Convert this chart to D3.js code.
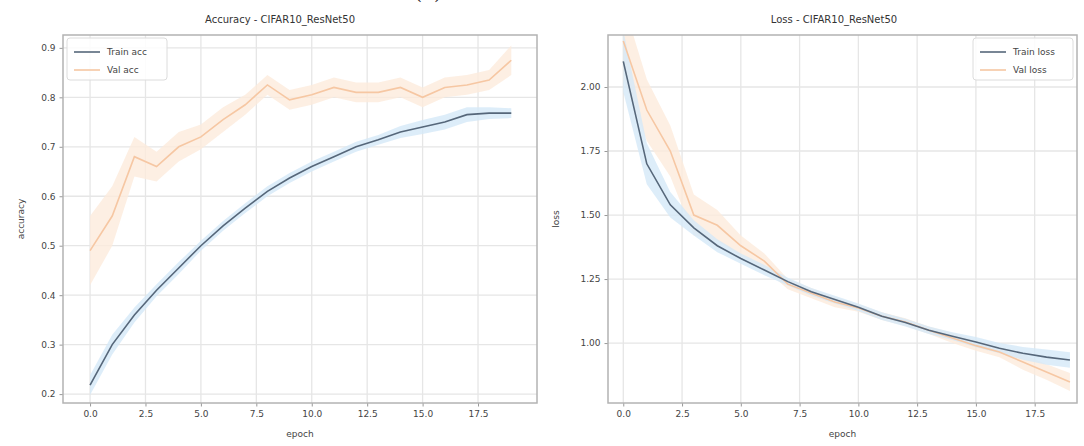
<!DOCTYPE html>
<html>
<head>
<meta charset="utf-8">
<script src="https://cdn.jsdelivr.net/npm/d3@7"></script>
<style>
body { margin: 0; background: #fff; }
text { font-family: "DejaVu Sans", sans-serif; fill: #444; }
</style>
</head>
<body>
<div id="vis"></div>
<script>
var width = 1084,
    height = 446;

// values
var epochs = d3.range(0, 20);
var trainAcc = [0.218, 0.30, 0.36, 0.41, 0.455, 0.50, 0.54, 0.576, 0.61, 0.637,
                0.66, 0.68, 0.70, 0.714, 0.73, 0.74, 0.75, 0.765, 0.768, 0.768];
var trainAccStd = [0.02, 0.02, 0.015, 0.012, 0.012, 0.01, 0.01, 0.01, 0.01, 0.01,
                   0.01, 0.01, 0.01, 0.01, 0.012, 0.014, 0.015, 0.015, 0.012, 0.01];
var valAcc = [0.49, 0.56, 0.68, 0.66, 0.70, 0.72, 0.755, 0.785, 0.825, 0.795,
              0.805, 0.82, 0.81, 0.81, 0.82, 0.80, 0.82, 0.825, 0.835, 0.875];
var valAccStd = [0.07, 0.06, 0.04, 0.03, 0.03, 0.025, 0.025, 0.02, 0.02, 0.02,
                 0.02, 0.02, 0.02, 0.02, 0.02, 0.02, 0.02, 0.02, 0.02, 0.03];

var trainLoss = [2.10, 1.70, 1.54, 1.45, 1.38, 1.33, 1.285, 1.24, 1.20, 1.17,
                 1.14, 1.105, 1.08, 1.05, 1.027, 1.004, 0.98, 0.96, 0.945, 0.934];
var trainLossStd = [0.12, 0.08, 0.05, 0.03, 0.025, 0.02, 0.02, 0.015, 0.015, 0.015,
                    0.015, 0.015, 0.015, 0.015, 0.015, 0.02, 0.02, 0.025, 0.03, 0.03];
var valLoss = [2.18, 1.91, 1.75, 1.50, 1.46, 1.38, 1.32, 1.23, 1.195, 1.16,
               1.137, 1.105, 1.082, 1.05, 1.02, 0.99, 0.965, 0.926, 0.887, 0.848];
var valLossStd = [0.15, 0.12, 0.1, 0.08, 0.06, 0.04, 0.03, 0.02, 0.02, 0.02,
                  0.015, 0.015, 0.015, 0.015, 0.02, 0.02, 0.02, 0.03, 0.03, 0.035];

var epochTicks = [0, 2.5, 5, 7.5, 10, 12.5, 15, 17.5];
var accTicks = [0.2, 0.3, 0.4, 0.5, 0.6, 0.7, 0.8, 0.9];
var lossTicks = [1.0, 1.25, 1.5, 1.75, 2.0];

var trainColor = "#56677a",
    trainBand = "#d4e9f7",
    valColor = "#f6c7a3",
    valBand = "#fdebdc";

var svg = d3.select('#vis').append('svg')
    .attr("width", width)
    .attr("height", height)
    .style("display", "block");

svg.append("rect").attr("width", width).attr("height", height).attr("fill", "#fff");

// caption of the figure above, only the bottom is visible
svg.append("text")
    .attr("x", 428).attr("y", -1)
    .attr("text-anchor", "middle")
    .style("font-family", "DejaVu Serif, serif")
    .style("font-size", "20px")
    .style("fill", "#222")
    .text("(a)");

function drawPanel(cfg) {
    var x = d3.scaleLinear().domain(cfg.xDomain).range([cfg.left, cfg.right]);
    var y = d3.scaleLinear().domain(cfg.yDomain).range([cfg.bottom, cfg.top]);
    var g = svg.append("g");

    g.append("clipPath").attr("id", cfg.id + "clip")
      .append("rect")
        .attr("x", cfg.left).attr("y", cfg.top)
        .attr("width", cfg.right - cfg.left).attr("height", cfg.bottom - cfg.top);

    // grid
    g.selectAll("line.vgrid").data(epochTicks).enter().append("line")
        .attr("x1", function(d) { return x(d); }).attr("x2", function(d) { return x(d); })
        .attr("y1", cfg.top).attr("y2", cfg.bottom)
        .attr("stroke", "#e6e6e6").attr("stroke-width", 1.3);
    g.selectAll("line.hgrid").data(cfg.yTicks).enter().append("line")
        .attr("y1", function(d) { return y(d); }).attr("y2", function(d) { return y(d); })
        .attr("x1", cfg.left).attr("x2", cfg.right)
        .attr("stroke", "#e6e6e6").attr("stroke-width", 1.3);

    var plot = g.append("g").attr("clip-path", "url(#" + cfg.id + "clip)");

    var area = function(vals, std) {
        return d3.area()
            .x(function(d) { return x(d); })
            .y0(function(d, i) { return y(vals[i] - std[i]); })
            .y1(function(d, i) { return y(vals[i] + std[i]); })(epochs);
    };
    var line = function(vals) {
        return d3.line()
            .x(function(d) { return x(d); })
            .y(function(d, i) { return y(vals[i]); })(epochs);
    };

    plot.append("path").attr("d", area(cfg.val, cfg.valStd))
        .attr("fill", valBand).attr("opacity", 0.8);
    plot.append("path").attr("d", area(cfg.train, cfg.trainStd))
        .attr("fill", trainBand).attr("opacity", 0.8);
    plot.append("path").attr("d", line(cfg.val))
        .attr("fill", "none").attr("stroke", valColor).attr("stroke-width", 1.6);
    plot.append("path").attr("d", line(cfg.train))
        .attr("fill", "none").attr("stroke", trainColor).attr("stroke-width", 1.6);

    // axes
    var xAxis = g.append("g")
        .attr("transform", "translate(0," + cfg.bottom + ")")
        .call(d3.axisBottom(x).tickValues(epochTicks).tickFormat(d3.format(".1f")).tickSizeOuter(0).tickSize(3.5).tickPadding(4));
    var yAxis = g.append("g")
        .attr("transform", "translate(" + cfg.left + ",0)")
        .call(d3.axisLeft(y).tickValues(cfg.yTicks).tickFormat(d3.format(cfg.yFormat)).tickSizeOuter(0).tickSize(3.5).tickPadding(4));
    [xAxis, yAxis].forEach(function(a) {
        a.select(".domain").remove();
        a.selectAll(".tick line").attr("stroke", "#999");
        a.selectAll(".tick text").style("font-size", "9px").style("font-family", "DejaVu Sans, sans-serif").attr("fill", "#555");
    });

    g.append("rect")
        .attr("x", cfg.left).attr("y", cfg.top)
        .attr("width", cfg.right - cfg.left).attr("height", cfg.bottom - cfg.top)
        .attr("fill", "none").attr("stroke", "#b3b3b3").attr("stroke-width", 1.5);

    // labels
    g.append("text")
        .attr("x", cfg.titleX).attr("y", 23)
        .attr("text-anchor", "middle")
        .style("font-size", "10px").style("fill", "#333")
        .text(cfg.title);
    g.append("text")
        .attr("x", (cfg.left + cfg.right) / 2).attr("y", 437)
        .attr("text-anchor", "middle")
        .style("font-size", "9px").style("fill", "#444")
        .text("epoch");
    g.append("text")
        .attr("transform", "translate(" + cfg.yLabelX + "," + (cfg.top + cfg.bottom) / 2 + ") rotate(-90)")
        .attr("text-anchor", "middle")
        .style("font-size", "9px").style("fill", "#444")
        .text(cfg.yLabel);

    // legend
    var lg = g.append("g").attr("transform", "translate(" + cfg.legendX + ",38)");
    lg.append("rect")
        .attr("width", cfg.legendW).attr("height", 42).attr("rx", 3)
        .attr("fill", "#fff").attr("fill-opacity", 0.85)
        .attr("stroke", "#dcdcdc").attr("stroke-width", 1);
    var items = [[cfg.names[0], trainColor], [cfg.names[1], valColor]];
    items.forEach(function(it, i) {
        var yy = 14 + i * 18;
        lg.append("line").attr("x1", 7).attr("x2", 33).attr("y1", yy).attr("y2", yy)
            .attr("stroke", it[1]).attr("stroke-width", 1.6);
        lg.append("text").attr("x", 40).attr("y", yy + 3)
            .style("font-size", "9px").style("fill", "#444")
            .text(it[0]);
    });
}

drawPanel({
    id: "acc", left: 63, right: 537, top: 35, bottom: 403,
    xDomain: [-1.22, 20.16], yDomain: [0.182, 0.926],
    yTicks: accTicks, yFormat: ".1f",
    train: trainAcc, trainStd: trainAccStd, val: valAcc, valStd: valAccStd,
    title: "Accuracy - CIFAR10_ResNet50", titleX: 280, yLabel: "accuracy", yLabelX: 24,
    names: ["Train acc", "Val acc"], legendX: 67, legendW: 100
});

drawPanel({
    id: "loss", left: 608, right: 1077, top: 35, bottom: 403,
    xDomain: [-0.65, 19.3], yDomain: [0.766, 2.203],
    yTicks: lossTicks, yFormat: ".2f",
    train: trainLoss, trainStd: trainLossStd, val: valLoss, valStd: valLossStd,
    title: "Loss - CIFAR10_ResNet50", titleX: 834, yLabel: "loss", yLabelX: 559,
    names: ["Train loss", "Val loss"], legendX: 973, legendW: 100
});
</script>
</body>
</html>
